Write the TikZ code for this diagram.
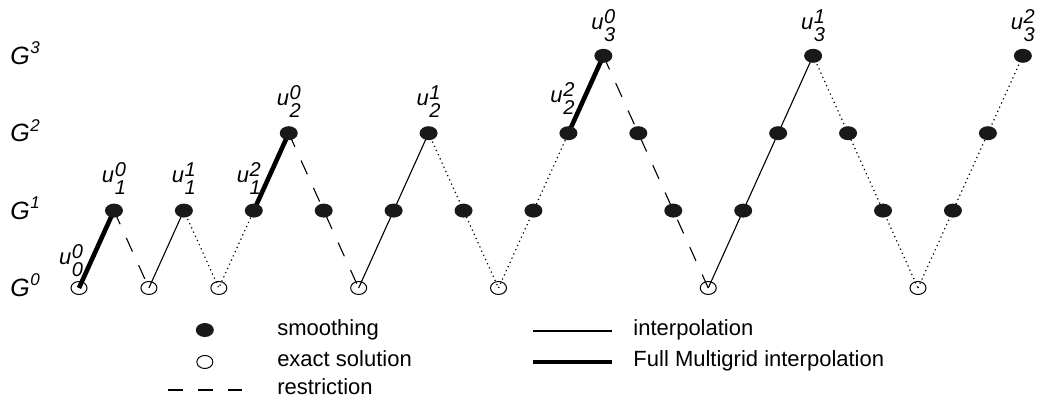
\documentclass[tikz,border=0pt]{standalone}
\usepackage{fontspec}
\setmainfont{Liberation Sans}
\usetikzlibrary{shapes.geometric,positioning,backgrounds}

\newcommand{\uval}[2]{\textit{u}\kern0.3pt\raisebox{-6pt}{\fontsize{10}{9}\selectfont\vbox{\hbox{\textit{#2}}\hbox{\textit{#1}}}}}
\newcommand{\glev}[1]{{\fontsize{12.5}{14}\selectfont\textit{G}}\kern0.3pt\raisebox{5.5pt}{\fontsize{8.5}{9}\selectfont\textit{#1}}}

\begin{document}
\begin{tikzpicture}[x=17.48pt,y=38.7pt,
  font=\fontsize{11}{13}\selectfont,
  every node/.style={inner sep=0pt},
  smnode/.style={ellipse,fill=black!90,minimum width=9pt,minimum height=7pt},
  exnode/.style={ellipse,draw=black,line width=0.5pt,minimum width=8pt,minimum height=6.5pt},
  ulab/.style={anchor=south},
  glab/.style={anchor=base west,yshift=-4.4pt},
  keytext/.style={anchor=base west},
  interp/.style={line width=0.55pt},
  fmg/.style={line width=2.3pt},
  restr/.style={line width=0.55pt,dash pattern=on 7.5pt off 7.5pt},
  dotline/.style={line width=0.6pt,dash pattern=on 0.6pt off 1.7pt}]
\useasboundingbox (-2.26,-1.486) rectangle (27.49,3.721);
% grid levels
\node[glab] (g0) at (-1.974,0) {\glev{0}};
\node[glab] (g1) at (-1.974,1) {\glev{1}};
\node[glab] (g2) at (-1.974,2) {\glev{2}};
\node[glab] (g3) at (-1.974,3) {\glev{3}};
% cycle
\node[exnode] (n0) at (0,0) {};
\node[smnode] (n1) at (1,1) {};
\node[exnode] (n2) at (2,0) {};
\node[smnode] (n3) at (3,1) {};
\node[exnode] (n4) at (4,0) {};
\node[smnode] (n5) at (5,1) {};
\node[smnode] (n6) at (6,2) {};
\node[smnode] (n7) at (7,1) {};
\node[exnode] (n8) at (8,0) {};
\node[smnode] (n9) at (9,1) {};
\node[smnode] (n10) at (10,2) {};
\node[smnode] (n11) at (11,1) {};
\node[exnode] (n12) at (12,0) {};
\node[smnode] (n13) at (13,1) {};
\node[smnode] (n14) at (14,2) {};
\node[smnode] (n15) at (15,3) {};
\node[smnode] (n16) at (16,2) {};
\node[smnode] (n17) at (17,1) {};
\node[exnode] (n18) at (18,0) {};
\node[smnode] (n19) at (19,1) {};
\node[smnode] (n20) at (20,2) {};
\node[smnode] (n21) at (21,3) {};
\node[smnode] (n22) at (22,2) {};
\node[smnode] (n23) at (23,1) {};
\node[exnode] (n24) at (24,0) {};
\node[smnode] (n25) at (25,1) {};
\node[smnode] (n26) at (26,2) {};
\node[smnode] (n27) at (27,3) {};
% labels
\node[ulab,above=2pt of n0,xshift=-4pt] (l0) {\uval{0}{0}};
\node[ulab,above=4pt of n1] (l1) {\uval{1}{0}};
\node[ulab,above=4pt of n3] (l3) {\uval{1}{1}};
\node[ulab,above=4pt of n5,xshift=-2.5pt] (l5) {\uval{1}{2}};
\node[ulab,above=4pt of n6] (l6) {\uval{2}{0}};
\node[ulab,above=4pt of n10] (l10) {\uval{2}{1}};
\node[ulab,above=5.5pt of n14,xshift=-3pt] (l14) {\uval{2}{2}};
\node[ulab,above=3pt of n15] (l15) {\uval{3}{0}};
\node[ulab,above=3pt of n21] (l21) {\uval{3}{1}};
\node[ulab,above=3pt of n27] (l27) {\uval{3}{2}};
\begin{scope}[on background layer]
\draw[fmg] (n0.center) -- (n1.center);
\draw[restr] (n1.center) -- (n2.center);
\draw[interp] (n2.center) -- (n3.center);
\draw[dotline] (n3.center) -- (n4.center) -- (n5.center);
\draw[fmg] (n5.center) -- (n6.center);
\draw[restr] (n6.center) -- (n7.center) -- (n8.center);
\draw[interp] (n8.center) -- (n9.center) -- (n10.center);
\draw[dotline] (n10.center) -- (n11.center) -- (n12.center);
\draw[dotline] (n12.center) -- (n13.center) -- (n14.center);
\draw[fmg] (n14.center) -- (n15.center);
\draw[restr] (n15.center) -- (n16.center) -- (n17.center) -- (n18.center);
\draw[interp] (n18.center) -- (n19.center) -- (n20.center) -- (n21.center);
\draw[dotline] (n21.center) -- (n22.center) -- (n23.center) -- (n24.center);
\draw[dotline] (n24.center) -- (n25.center) -- (n26.center) -- (n27.center);
\end{scope}
% key
\node[smnode] (ks) at (3.60,-0.543) {};
\node[exnode] (ke) at (3.60,-0.956) {};
\coordinate (kr0) at (2.55,-1.318);
\coordinate (kr1) at (4.66,-1.318);
\draw[restr] (kr0) -- (kr1);
\node[keytext] (ts) at (5.66,-0.620) {smoothing};
\node[keytext] (te) at (5.66,-1.008) {exact solution};
\node[keytext] (tr) at (5.66,-1.382) {restriction};
\coordinate (ki0) at (12.99,-0.556);
\coordinate (ki1) at (15.25,-0.556);
\coordinate (kf0) at (12.99,-0.956);
\coordinate (kf1) at (15.25,-0.956);
\draw[interp] (ki0) -- (ki1);
\draw[fmg] (kf0) -- (kf1);
\node[keytext] (ti) at (15.85,-0.620) {interpolation};
\node[keytext] (tf) at (15.85,-1.008) {Full Multigrid interpolation};
\end{tikzpicture}
\end{document}
